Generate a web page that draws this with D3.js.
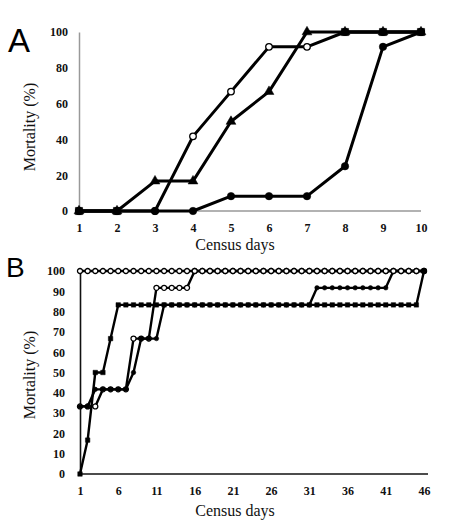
<!DOCTYPE html>
<html>
<head>
<meta charset="utf-8">
<script src="https://cdn.jsdelivr.net/npm/d3@7"></script>
<style>
  body { margin: 0; background: #fff; }
  .tick text { font-family: "Liberation Serif", "Times New Roman", serif; font-weight: bold; font-size: 12px; fill: #111; }
  .title { font-family: "Liberation Serif", "Times New Roman", serif; font-size: 16px; fill: #111; }
  .panel { font-family: "Liberation Sans", Arial, sans-serif; fill: #000; }
</style>
</head>
<body>
<script>
// ---- data: panel A (days 1-10)
const daysA = [1, 2, 3, 4, 5, 6, 7, 8, 9, 10];
const aOpen   = [0, 0, 0, 41.7, 66.7, 91.7, 91.7, 100, 100, 100];
const aTri    = [0, 0, 16.7, 16.7, 50, 66.7, 100, 100, 100, 100];
const aFilled = [0, 0, 0, 0, 8.3, 8.3, 8.3, 25, 91.7, 100];
const aSquare = [0, 0, null, null, null, null, null, 100, 100, 100];
const yTicksA = [0, 20, 40, 60, 80, 100];

// ---- data: panel B (days 1-46)
const daysB = d3.range(1, 47);
const bTop = [100, 100, 100, 100, 100, 100, 100, 100, 100, 100,
  100, 100, 100, 100, 100, 100, 100, 100, 100, 100,
  100, 100, 100, 100, 100, 100, 100, 100, 100, 100,
  100, 100, 100, 100, 100, 100, 100, 100, 100, 100,
  100, 100, 100, 100, 100, 100];
const bOpen = [33.3, 33.3, 33.3, 41.7, 41.7, 41.7, 41.7, 66.7, 66.7, 66.7,
  91.7, 91.7, 91.7, 91.7, 91.7, 100, 100, 100, 100, 100,
  100, 100, 100, 100, 100, 100, 100, 100, 100, 100,
  100, 100, 100, 100, 100, 100, 100, 100, 100, 100,
  100, 100, 100, 100, 100, 100];
const bSquare = [0, 16.7, 50, 50, 66.7, 83.3, 83.3, 83.3, 83.3, 83.3,
  83.3, 83.3, 83.3, 83.3, 83.3, 83.3, 83.3, 83.3, 83.3, 83.3,
  83.3, 83.3, 83.3, 83.3, 83.3, 83.3, 83.3, 83.3, 83.3, 83.3,
  83.3, 83.3, 83.3, 83.3, 83.3, 83.3, 83.3, 83.3, 83.3, 83.3,
  83.3, 83.3, 83.3, 83.3, 83.3, 100];
const bFilled = [33.3, 33.3, 41.7, 41.7, 41.7, 41.7, 41.7, 50, 66.7, 66.7,
  66.7, 83.3, 83.3, 83.3, 83.3, 83.3, 83.3, 83.3, 83.3, 83.3,
  83.3, 83.3, 83.3, 83.3, 83.3, 83.3, 83.3, 83.3, 83.3, 83.3,
  83.3, 91.7, 91.7, 91.7, 91.7, 91.7, 91.7, 91.7, 91.7, 91.7,
  91.7, 100, 100, 100, 100, 100];
const xTicksB = [1, 6, 11, 16, 21, 26, 31, 36, 41, 46];
const yTicksB = [0, 10, 20, 30, 40, 50, 60, 70, 80, 90, 100];

const svg = d3.select('body').append('svg')
  .attr('width', 450)
  .attr('height', 524);

// draws one panel: axes, titles, then each series line + markers
const drawPanel = (cfg) => {
  const x = d3.scaleLinear().domain(cfg.xDomain).range(cfg.xRange);
  const y = d3.scaleLinear().domain([0, 100]).range(cfg.yRange);

  const gx = svg.append('g')
    .attr('transform', `translate(0,${cfg.yRange[0]})`)
    .call(d3.axisBottom(x).tickValues(cfg.xTicks).tickSize(0).tickPadding(cfg.xPad).tickFormat(d3.format('d')));
  gx.select('.domain').attr('stroke', cfg.axisColor).attr('stroke-width', cfg.axisWidth)
    .attr('d', `M${cfg.xRange[0]},0H${cfg.xRange[1] + cfg.xExtra}`);

  const gy = svg.append('g')
    .attr('transform', `translate(${cfg.xRange[0]},0)`)
    .call(d3.axisLeft(y).tickValues(cfg.yTicks).tickSize(0).tickPadding(cfg.yPad));
  gy.select('.domain').attr('stroke', cfg.axisColor).attr('stroke-width', cfg.axisWidth);

  svg.append('text').attr('class', 'title')
    .attr('text-anchor', 'middle')
    .attr('transform', `translate(${cfg.yTitleX},${cfg.yTitleY}) rotate(-90)`)
    .text('Mortality (%)');
  svg.append('text').attr('class', 'title')
    .attr('text-anchor', 'middle')
    .attr('x', 235).attr('y', cfg.xTitleY)
    .text('Census days');
  svg.append('text').attr('class', 'panel')
    .attr('x', cfg.labelX).attr('y', cfg.labelY)
    .style('font-size', cfg.labelSize + 'px')
    .text(cfg.label);

  const line = d3.line()
    .defined(d => d.v != null)
    .x(d => x(d.day))
    .y(d => y(d.v));

  cfg.series.forEach(s => {
    const pts = cfg.days.map((day, i) => ({day: day, v: s.values[i]}));
    svg.append('path')
      .datum(pts)
      .attr('fill', 'none')
      .attr('stroke', '#000')
      .attr('stroke-width', cfg.lineWidth)
      .attr('stroke-linejoin', 'round')
      .attr('d', line);

    svg.append('g').selectAll('path')
      .data(pts.filter(d => d.v != null))
      .join('path')
      .attr('transform', d => `translate(${x(d.day)},${y(d.v)})`)
      .attr('d', d3.symbol().type(s.shape).size(s.size))
      .attr('fill', s.open ? '#fff' : '#000')
      .attr('stroke', '#000')
      .attr('stroke-width', s.open ? 1.3 : 0.5);
  });
};

drawPanel({
  xDomain: [1, 10], xRange: [79, 421], yRange: [211, 32],
  xTicks: daysA, yTicks: yTicksA, days: daysA,
  axisColor: '#999', axisWidth: 1.5, xExtra: 0,
  xPad: 12, yPad: 11,
  yTitleX: 35, yTitleY: 127, xTitleY: 250,
  label: 'A', labelX: 8, labelY: 52, labelSize: 33,
  lineWidth: 3,
  series: [
    {values: aOpen, shape: d3.symbolCircle, size: 34, open: true},
    {values: aTri, shape: d3.symbolTriangle, size: 42, open: false},
    {values: aFilled, shape: d3.symbolCircle, size: 44, open: false},
    {values: aSquare, shape: d3.symbolSquare, size: 52, open: false}
  ]
});

drawPanel({
  xDomain: [1, 46], xRange: [80, 424], yRange: [474, 271],
  xTicks: xTicksB, yTicks: yTicksB, days: daysB,
  axisColor: '#111', axisWidth: 1.6, xExtra: 4,
  xPad: 12, yPad: 15,
  yTitleX: 35, yTitleY: 375, xTitleY: 516,
  label: 'B', labelX: 6, labelY: 277, labelSize: 28,
  lineWidth: 2.4,
  series: [
    {values: bOpen, shape: d3.symbolCircle, size: 20, open: true},
    {values: bFilled, shape: d3.symbolCircle, size: 16, open: false},
    {values: bTop, shape: d3.symbolCircle, size: 20, open: true},
    {values: bSquare, shape: d3.symbolSquare, size: 20, open: false}
  ]
});
</script>
</body>
</html>
